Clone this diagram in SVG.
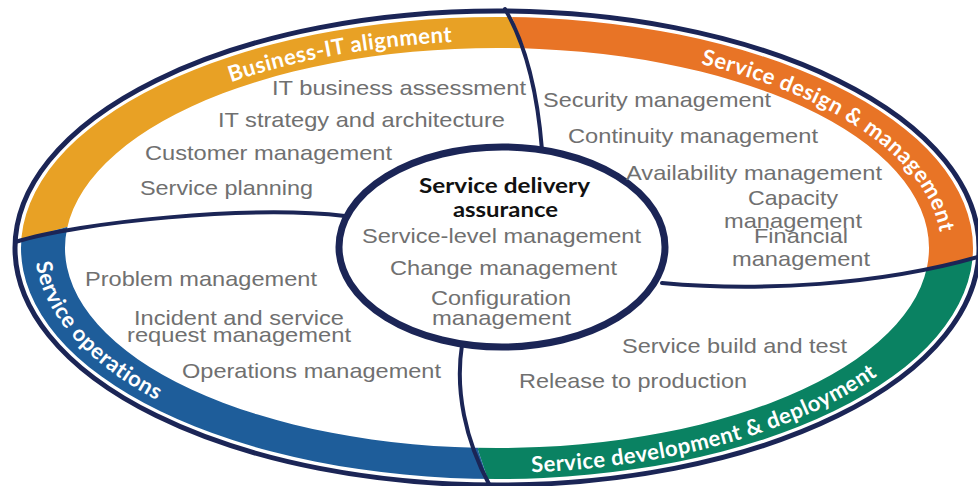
<svg xmlns="http://www.w3.org/2000/svg" xmlns:xlink="http://www.w3.org/1999/xlink" width="978" height="486" viewBox="0 0 978 486">
<style>
.nv{fill:none;stroke:#1b2556;stroke-linecap:round}
.t{font-family:"Liberation Sans",Arial,sans-serif;font-size:21px;fill:#707070}
.b{font-family:"Lato","Liberation Sans",sans-serif;font-weight:700;font-size:21px;fill:#111}
.lb{font-family:"Lato","Liberation Sans",sans-serif;font-weight:700;font-size:22px;letter-spacing:0.5px;fill:#fff}
</style>
<defs>
<clipPath id="ring"><path clip-rule="evenodd" d="M21,248 A476,231 0 1 0 973,248 A476,231 0 1 0 21,248 Z M65,248 A432,200 0 1 1 929,248 A432,200 0 1 1 65,248 Z"/></clipPath>
<path id="topArc" d="M53,248 A444,207 0 0 1 941,248"/>
<path id="botArc" d="M35,248 A462,225 0 0 0 959,248"/>
</defs>
<rect width="978" height="486" fill="#fff"/>
<g id="outer">
<ellipse cx="497" cy="248" rx="482" ry="237" fill="#fff" stroke="#1b2556" stroke-width="5"/>
</g>
<g id="band" clip-path="url(#ring)">
<polygon id="seg-business" fill="#e8a125" points="0,0 510,0 512,17 526,52 497,248 67,227 20,240 0,241"/>
<polygon id="seg-design" fill="#e87426" points="510,0 978,0 978,258 929,270 497,248 526,52 512,17"/>
<polygon id="seg-development" fill="#0a8262" points="978,258 978,486 490,486 478,450 497,248 929,270"/>
<polygon id="seg-operations" fill="#1e5d9a" points="0,241 20,240 67,227 497,248 478,450 490,486 0,486"/>
</g>
<g id="connectors">
<path class="nv" stroke-width="4" d="M505,9 Q535,60 542,150"/>
<path class="nv" stroke-width="4" d="M15,242 C80,222 250,205 345,216"/>
<path class="nv" stroke-width="4" d="M462,345 C455,390 465,440 490,486"/>
<path class="nv" stroke-width="4" d="M662,283 C760,292 880,285 978,257"/>
</g>
<g id="center">
<ellipse cx="502" cy="247" rx="163" ry="100" fill="#fff" stroke="#1b2556" stroke-width="7"/>
<text class="b" x="419" y="193" textLength="171" lengthAdjust="spacingAndGlyphs">Service delivery</text>
<text class="b" x="453" y="217" textLength="105" lengthAdjust="spacingAndGlyphs">assurance</text>
<text class="t" x="362" y="243" textLength="279" lengthAdjust="spacingAndGlyphs">Service-level management</text>
<text class="t" x="390" y="275" textLength="227" lengthAdjust="spacingAndGlyphs">Change management</text>
<text class="t" x="431" y="305" textLength="140" lengthAdjust="spacingAndGlyphs">Configuration</text>
<text class="t" x="432" y="325" textLength="139" lengthAdjust="spacingAndGlyphs">management</text>
</g>
<g id="business-it-alignment">
<text class="lb" text-anchor="middle"><textPath href="#topArc" startOffset="35.1%">Business-IT alignment</textPath></text>
<text class="t" x="272" y="95" textLength="254" lengthAdjust="spacingAndGlyphs">IT business assessment</text>
<text class="t" x="218" y="127" textLength="287" lengthAdjust="spacingAndGlyphs">IT strategy and architecture</text>
<text class="t" x="145" y="160" textLength="247" lengthAdjust="spacingAndGlyphs">Customer management</text>
<text class="t" x="140" y="195" textLength="173" lengthAdjust="spacingAndGlyphs">Service planning</text>
</g>
<g id="service-design">
<text class="lb" text-anchor="middle"><textPath href="#topArc" startOffset="84%">Service design &amp; management</textPath></text>
<text class="t" x="543" y="107" textLength="228" lengthAdjust="spacingAndGlyphs">Security management</text>
<text class="t" x="568" y="143" textLength="250" lengthAdjust="spacingAndGlyphs">Continuity management</text>
<text class="t" x="626" y="180" textLength="256" lengthAdjust="spacingAndGlyphs">Availability management</text>
<text class="t" x="748" y="205" textLength="90" lengthAdjust="spacingAndGlyphs">Capacity</text>
<text class="t" x="724" y="228" textLength="138" lengthAdjust="spacingAndGlyphs">management</text>
<text class="t" x="754" y="243" textLength="94" lengthAdjust="spacingAndGlyphs">Financial</text>
<text class="t" x="732" y="266" textLength="138" lengthAdjust="spacingAndGlyphs">management</text>
</g>
<g id="service-operations">
<text class="lb" text-anchor="middle"><textPath href="#botArc" startOffset="9.9%">Service operations</textPath></text>
<text class="t" x="85" y="286" textLength="232" lengthAdjust="spacingAndGlyphs">Problem management</text>
<text class="t" x="134" y="325" textLength="210" lengthAdjust="spacingAndGlyphs">Incident and service</text>
<text class="t" x="127" y="342" textLength="224" lengthAdjust="spacingAndGlyphs">request management</text>
<text class="t" x="182" y="378" textLength="259" lengthAdjust="spacingAndGlyphs">Operations management</text>
</g>
<g id="service-development">
<text class="lb" text-anchor="middle"><textPath href="#botArc" startOffset="69.5%">Service development &amp; deployment</textPath></text>
<text class="t" x="622" y="353" textLength="225" lengthAdjust="spacingAndGlyphs">Service build and test</text>
<text class="t" x="519" y="388" textLength="228" lengthAdjust="spacingAndGlyphs">Release to production</text>
</g>
</svg>
